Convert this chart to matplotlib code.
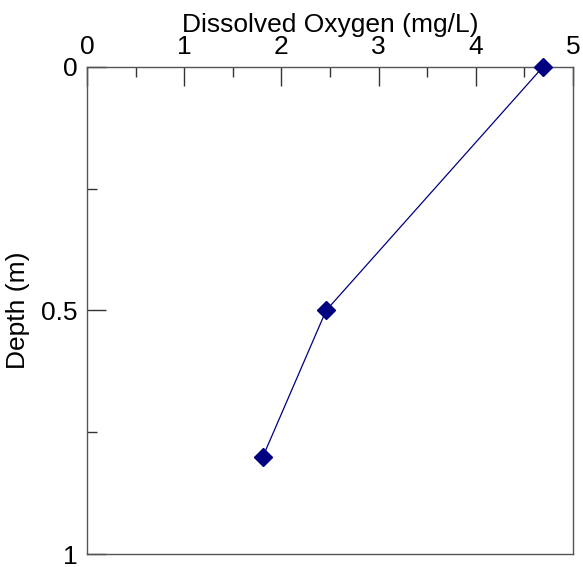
import matplotlib
matplotlib.use("Agg")
import matplotlib.pyplot as plt
from matplotlib.ticker import MultipleLocator

oxygen = [4.69, 2.46, 1.81]
depth = [0.0, 0.5, 0.8]

plt.rcParams['font.family'] = ['Liberation Sans', 'DejaVu Sans']

fig = plt.figure(figsize=(5.83, 5.67), dpi=100)
ax = fig.add_axes([87/583, 1-554/567, (573-87)/583, (554-67)/567])
ax.plot(oxygen, depth, color='#000080', lw=0.9, marker='D', markersize=9,
        markerfacecolor='#000080', markeredgecolor='#000080', clip_on=False, zorder=3)
ax.set_xlim(0, 5)
ax.set_ylim(1, 0)
ax.xaxis.set_ticks_position('top')
ax.xaxis.set_label_position('top')
ax.xaxis.set_major_locator(MultipleLocator(1))
ax.xaxis.set_minor_locator(MultipleLocator(0.5))
ax.yaxis.set_major_locator(MultipleLocator(0.5))
ax.yaxis.set_minor_locator(MultipleLocator(0.25))
ax.set_yticks([0, 0.5, 1])
ax.set_yticklabels(['0', '0.5', '1'])
ax.tick_params(which='both', direction='in', labelsize=19, color='#333333', width=1)
ax.tick_params(which='major', length=14, pad=6)
ax.tick_params(which='minor', length=7)
ax.tick_params(axis='y', which='both', right=False, pad=7)
ax.tick_params(axis='x', which='both', bottom=False)
for s in ax.spines.values():
    s.set_color('#555555')
    s.set_linewidth(1)
ax.set_xlabel('Dissolved Oxygen (mg/L)', fontsize=19, labelpad=2)
ax.set_ylabel('Depth (m)', fontsize=19, labelpad=8)
fig.savefig('out.png', dpi=100)
